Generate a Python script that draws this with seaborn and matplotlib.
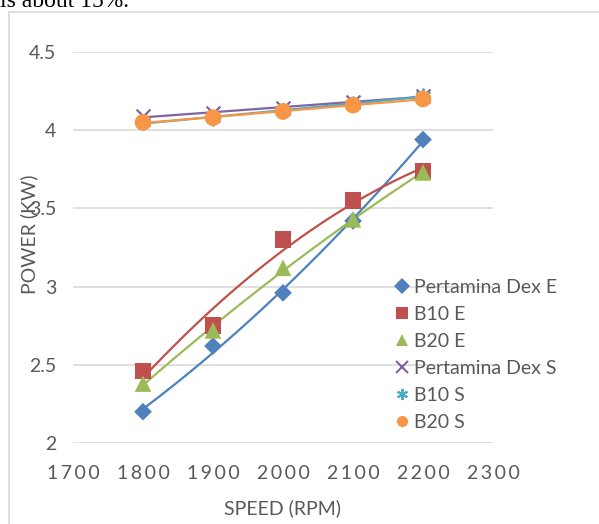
import numpy as np
import pandas as pd
import matplotlib
matplotlib.use("Agg")
import matplotlib.pyplot as plt
from matplotlib.patches import Rectangle
import seaborn as sns

# data
speed = [1800, 1900, 2000, 2100, 2200]
dex_e = [2.20, 2.62, 2.96, 3.42, 3.94]
b10_e = [2.46, 2.75, 3.30, 3.55, 3.74]
b20_e = [2.38, 2.72, 3.12, 3.43, 3.73]
dex_s = [4.09, 4.11, 4.14, 4.18, 4.22]
b10_s = [4.05, 4.08, 4.12, 4.17, 4.22]
b20_s = [4.05, 4.08, 4.12, 4.16, 4.20]

x_ticks = [1700, 1800, 1900, 2000, 2100, 2200, 2300]
y_ticks = [2, 2.5, 3, 3.5, 4, 4.5]

series = [
    ("Pertamina Dex E", dex_e, "#4f81bd", "D", 9, 2),
    ("B10 E", b10_e, "#c0504d", "s", 12, 2),
    ("B20 E", b20_e, "#9bbb59", "^", 12, 2),
    ("Pertamina Dex S", dex_s, "#8064a2", "x", 10, 1),
    ("B10 S", b10_s, "#4bacc6", (6, 2, 0), 10, 1),
    ("B20 S", b20_s, "#f79646", "o", 12, 1),
]

sns.set_style("white")
plt.rcParams['font.family'] = ['Lato', 'DejaVu Sans']

fig = plt.figure(figsize=(5.99, 5.24), dpi=100)
ax = fig.add_axes([73 / 599, 1 - 443 / 524, 420 / 599, 391 / 524])

# chart frame and the cut-off line of text above it
fig.patches.append(Rectangle((9 / 599, -0.1), 1.0, 1 - 12 / 524 + 0.1,
                             transform=fig.transFigure, fill=False,
                             edgecolor="#d9d9d9", linewidth=1.2))
fig.text(0.0, 1 - 7 / 524, "is about 15%.", fontsize=17, va="baseline",
         family="Liberation Serif", color="black")

handles = []
xs = np.linspace(speed[0], speed[-1], 100)
for name, vals, color, marker, ms, deg in series:
    # trendline (polynomial for E, linear for S)
    coef = np.polyfit(speed, vals, deg)
    ax.plot(xs, np.polyval(coef, xs), color=color, lw=1.6, zorder=2)
    df = pd.DataFrame({"speed": speed, "power": vals})
    lw = 1.6 if marker in ("x", (6, 2, 0)) else 0
    sns.scatterplot(data=df, x="speed", y="power", ax=ax, color=color,
                    marker=marker, s=ms ** 2, linewidth=lw,
                    edgecolor=color if lw else "none", zorder=3)
    h, = ax.plot([], [], linestyle="none", marker=marker, color=color,
                 markersize=8, markeredgewidth=1.5 if lw else 0)
    handles.append((h, name))

ax.set_xlim(1700, 2300)
ax.set_ylim(2, 4.5)
ax.set_xticks(x_ticks)
ax.set_yticks(y_ticks)
ax.set_xticklabels(["\u2009".join(str(t)) for t in x_ticks])
ax.set_yticklabels([f"{t:g}" for t in y_ticks])
ax.tick_params(axis="both", length=0, labelsize=14, colors="#595959")
ax.tick_params(axis="x", pad=16)
ax.tick_params(axis="y", pad=12)
ax.yaxis.grid(True, color="#d9d9d9", linewidth=1.2)
ax.set_axisbelow(True)
for sp in ax.spines.values():
    sp.set_visible(False)

ax.set_xlabel("SPEED (RPM)", fontsize=14, color="#595959", labelpad=12)
ax.set_ylabel("POWER (KW)", fontsize=14, color="#595959")
ax.yaxis.set_label_coords(-0.083, 0.535)

leg = ax.legend([h for h, _ in handles], [n for _, n in handles],
                loc="upper left", bbox_to_anchor=(0.748, 0.44), frameon=False,
                fontsize=14, labelcolor="#595959", handlelength=0.7,
                handletextpad=0.3, labelspacing=0.52, borderaxespad=0)

fig.savefig("out.png", dpi=100)
